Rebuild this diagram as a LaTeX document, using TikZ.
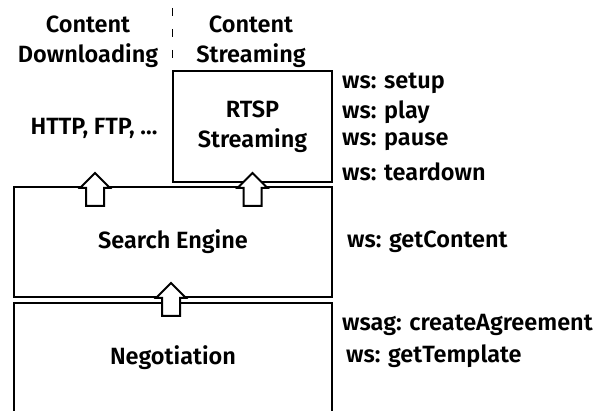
\documentclass[tikz,border=0pt]{standalone}
\usepackage{fontspec}
\setmainfont{Fira Sans}[BoldFont={Fira Sans SemiBold}]
\usetikzlibrary{positioning}

\begin{document}
\begin{tikzpicture}[x=1pt,y=-1pt,
	box/.style={draw,line width=2pt,inner sep=0pt,align=center,font=\fontsize{23.5}{30}\selectfont\bfseries},
	lbl/.style={inner sep=0pt,align=center,font=\fontsize{23.5}{30}\selectfont\bfseries},
	ws/.style={inner sep=0pt,anchor=west,font=\fontsize{23.5}{25}\selectfont\bfseries},
	blockarrow/.pic={\draw[line width=2pt,fill=white,line join=miter] (0,0) -- (15,15) -- (9,15) -- (9,33) -- (-9,33) -- (-9,15) -- (-15,15) -- cycle;}]
			\useasboundingbox (0,0) rectangle (608,411);
			% boxes
			\node[box,minimum width=159pt,minimum height=111pt] (rtsp) at (252.5,126.5){RTSP\\Streaming};
			\node[box,minimum width=318pt,minimum height=110pt] (search) at (173,242){Search Engine};
			\node[box,minimum width=318pt,minimum height=110pt] (nego) at (173,358){Negotiation};
			% column titles
			\node[lbl] (down) at (88,42){Content\\Downloading};
			\node[lbl] (stream) at (251,42){Content\\Streaming};
			\node[lbl] (http) at (94,128){HTTP, FTP, ...};
			\coordinate (dtop) at (172,8);
			\coordinate (dbot) at (172,64);
			\draw[line width=1pt,dash pattern=on 8pt off 13pt] (dtop) -- (dbot);
			% block arrows
			\pic at (95,173) {blockarrow};
			\pic at (rtsp.south |- 0,173) {blockarrow};
			\pic at (171,283) {blockarrow};
			% web service operations
			\node[ws] (setup) at (342,83){ws: setup};
			\node[ws] (play) at (342,112){ws: play};
			\node[ws] (pause) at (342,142){ws: pause};
			\node[ws] (tear) at (342,172){ws: teardown};
			\node[ws] (getc) at (347,242){ws: getContent};
			\node[ws] (agree) at (342,325){wsag: createAgreement};
			\node[ws] (templ) at (346,356){ws: getTemplate};
		\end{tikzpicture}
\end{document}
